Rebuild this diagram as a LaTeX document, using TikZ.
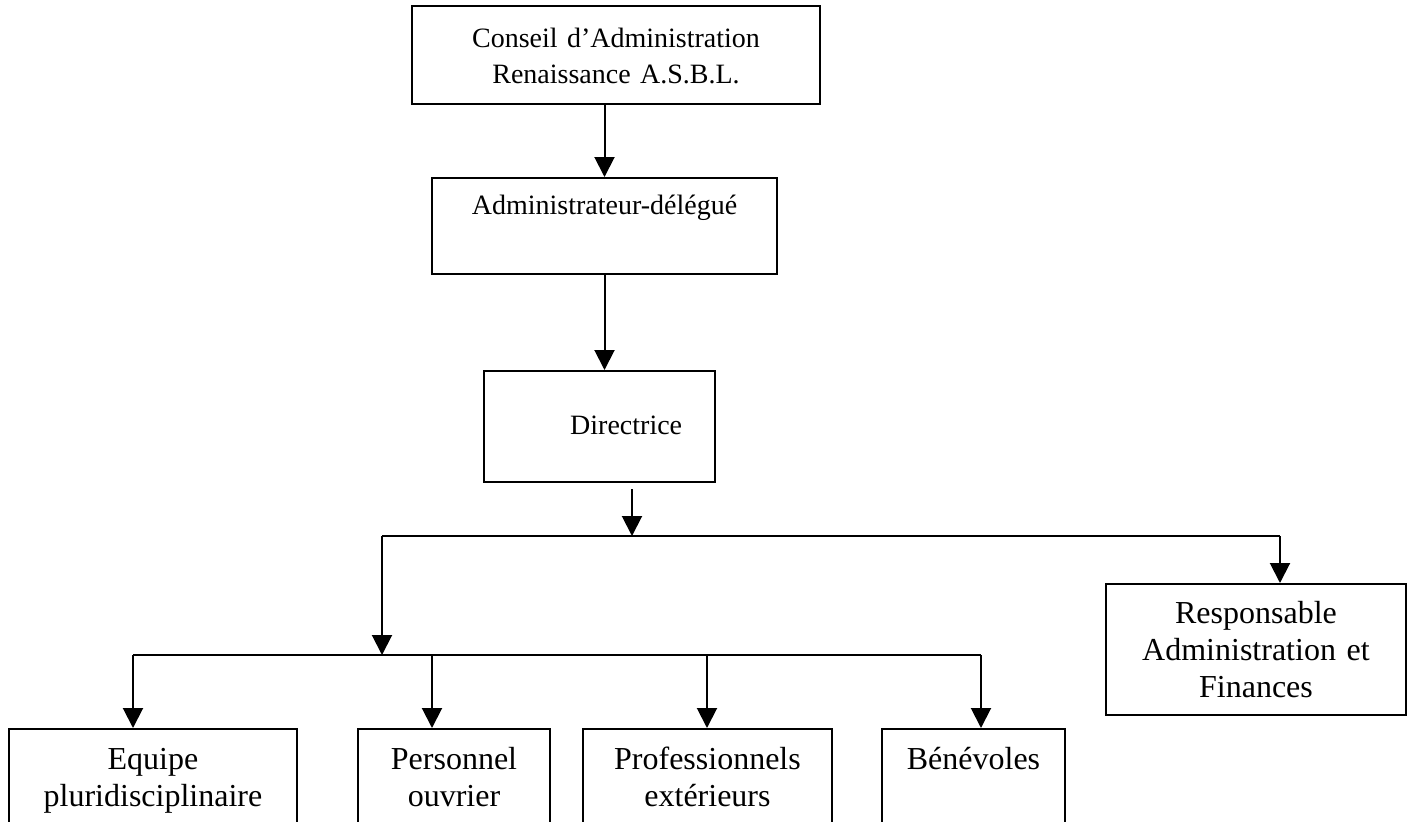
\documentclass[tikz,border=0pt]{standalone}
\usepackage{fontspec}
\setmainfont{Liberation Serif}
\usepackage{tikz}
\usetikzlibrary{arrows.meta, positioning}

\tikzset{
  orgbox/.style={draw, line width=0.75pt, inner sep=0pt, align=center, anchor=north west},
  topbox/.style={orgbox, font=\fontsize{10.5}{13.5}\selectfont},
  lowbox/.style={orgbox, font=\fontsize{12}{13.9}\selectfont},
}

\begin{document}
\begin{tikzpicture}[x=0.375pt, y=-0.375pt, >={Triangle[length=7.5pt, width=7.5pt]}, line width=0.75pt]
        \useasboundingbox (0,0) rectangle (1413,822);
        \clip (0,0) rectangle (1413,822);

        % Top of the chart
        \node[topbox, text width=153pt, text height=15.375pt, text depth=21.375pt] (conseil) at (411,5) {Conseil d’Administration\\Renaissance A.S.B.L.};
        \node[topbox, text width=129.375pt, text height=13.5pt, text depth=22.5pt] (admin) at (431,177) {Administrateur-délégué};
        \node[topbox, text width=86.625pt, text height=23.625pt, text depth=18pt] (directrice) at (483,370) {\hspace*{20pt}Directrice};

        % Right branch
        \node[lowbox, text width=112.5pt, text height=14.625pt, text depth=34.5pt] (resp) at (1105,583) {Responsable\\Administration et\\Finances};

        % Bottom row
        \node[lowbox, text width=108pt, text height=15pt, text depth=33.75pt] (equipe) at (8,728) {Equipe\\pluridisciplinaire};
        \node[lowbox, text width=72pt, text height=15pt, text depth=33.75pt] (personnel) at (357,728) {Personnel\\ouvrier};
        \node[lowbox, text width=93.375pt, text height=15pt, text depth=33.75pt] (prof) at (582,728) {Professionnels\\extérieurs};
        \node[lowbox, text width=68.625pt, text height=15pt, text depth=33.75pt] (benevoles) at (881,728) {Bénévoles};

        % Paths
        \coordinate (hub) at (632,536);
        \coordinate (rhub) at (1280,536);
        \coordinate (split) at (382,655);

        \draw[->] (admin.north |- conseil.south) -- (admin.north);
        \draw[->] (admin.south) -- (admin.south |- directrice.north);
        \draw[->] ([yshift=-2.25pt]directrice.south -| hub) -- (hub);
        \draw (split |- hub) -- (rhub);
        \draw[->] (rhub) -- (rhub |- resp.north);
        \draw[->] (split |- hub) -- (split);

        \foreach \xd/\target in {133/equipe, 432/personnel, 707/prof, 981/benevoles} {
            \coordinate (drop-\target) at (\xd,655);
            \draw[->] (drop-\target) -- (drop-\target |- \target.north);
        }
        \draw (drop-equipe) -- (drop-benevoles);
    \end{tikzpicture}
\end{document}
